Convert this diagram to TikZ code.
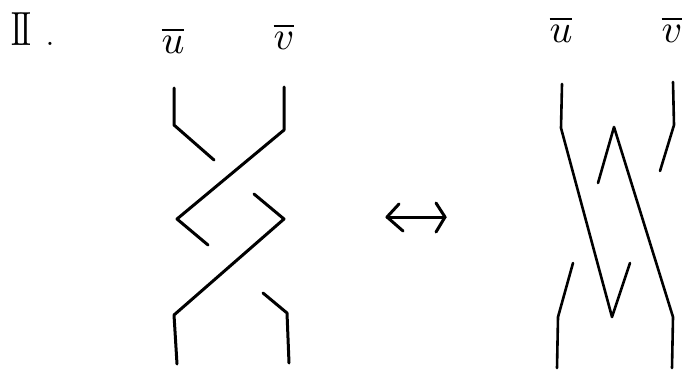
\documentclass[tikz,border=0pt]{standalone}
\usepackage{amsmath}
\tikzset{
  x=1pt,y=-1pt,
  strand/.style={line width=3pt,line cap=round,line join=round,black},
  thinstrand/.style={line width=2.6pt,line cap=round,line join=round,black},
  lab/.style={inner sep=0pt}
}
\newcommand{\biglab}[1]{\scalebox{4}{$\overline{#1}$}}
\begin{document}
\begin{tikzpicture}
\useasboundingbox (0,0) rectangle (684,372);
% labels
\node[lab,anchor=base] (roman) at (21,45) {\scalebox{3}[4.8]{I\kern-0.6pt I}};
\node[lab,anchor=base] (dot) at (50,45) {\scalebox{3}{.}};
\node[lab,anchor=base] (u1) at (173,53) {\biglab{u}};
\node[lab,anchor=base] (v1) at (284,49) {\biglab{v}};
\node[lab,anchor=base] (u2) at (561,42) {\biglab{u}};
\node[lab,anchor=base] (v2) at (672,42) {\biglab{v}};
% left braid
\coordinate (a1) at (174,88); \coordinate (a2) at (174,125); \coordinate (a3) at (214,160);
\coordinate (b1) at (284,87); \coordinate (b2) at (284,130); \coordinate (b3) at (177,219); \coordinate (b4) at (208,245);
\coordinate (c1) at (254,194); \coordinate (c2) at (284,219); \coordinate (c3) at (174,315); \coordinate (c4) at (177,364);
\coordinate (d1) at (263,293); \coordinate (d2) at (287,313); \coordinate (d3) at (289,363);
\draw[strand] (a1) -- (a2) -- (a3);
\draw[strand] (b1) -- (b2) -- (b3) -- (b4);
\draw[strand] (c1) -- (c2) -- (c3) -- (c4);
\draw[strand] (d1) -- (d2) -- (d3);
% double arrow
\coordinate (p1) at (387,217); \coordinate (p2) at (445,217);
\coordinate (p3) at (399,204); \coordinate (p4) at (403,231);
\coordinate (p5) at (436,203); \coordinate (p6) at (436,232);
\draw[strand] (p1) -- (p2);
\draw[strand] (p3) -- (p1) -- (p4);
\draw[strand] (p5) -- (p2) -- (p6);
% right braid
\coordinate (e1) at (562,84); \coordinate (e2) at (561,128); \coordinate (e3) at (612,317); \coordinate (e4) at (630,263);
\coordinate (f1) at (673,82); \coordinate (f2) at (674,125); \coordinate (f3) at (660,171);
\coordinate (g1) at (598,183); \coordinate (g2) at (614,127); \coordinate (g3) at (673,317); \coordinate (g4) at (672,368);
\coordinate (h1) at (573,263); \coordinate (h2) at (558,317); \coordinate (h3) at (557,368);
\draw[thinstrand] (e1) -- (e2) -- (e3) -- (e4);
\draw[thinstrand] (f1) -- (f2) -- (f3);
\draw[thinstrand] (g1) -- (g2) -- (g3) -- (g4);
\draw[thinstrand] (h1) -- (h2) -- (h3);
\end{tikzpicture}
\end{document}
